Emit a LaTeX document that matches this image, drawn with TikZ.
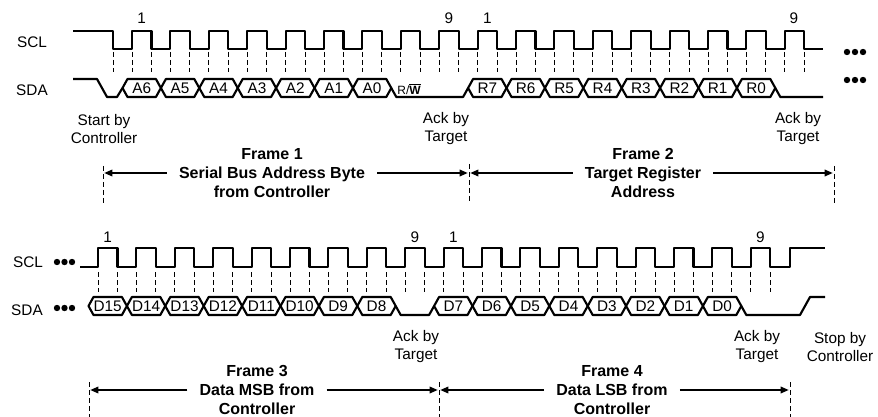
\documentclass[tikz,border=0pt]{standalone}
\usepackage{fontspec}
\setmainfont{Liberation Sans}
\usetikzlibrary{arrows.meta}

\tikzset{
	sig/.style={line width=1.6pt, line join=round},
	tick/.style={line width=0.7pt, dash pattern=on 3.5pt off 2.5pt},
	dim/.style={line width=0.9pt, -{Triangle[length=6pt,width=5pt]}, shorten >=1pt},
	lbl/.style={font=\fontsize{11.5}{13.5}\selectfont, align=center, inner sep=0pt},
	bitlbl/.style={font=\fontsize{11.5}{13.5}\selectfont, inner sep=0pt},
	rwlbl/.style={font=\fontsize{9}{10}\selectfont, inner sep=0pt},
	framelbl/.style={font=\fontsize{12}{14}\selectfont\bfseries, align=center, inner xsep=9pt, inner ysep=0pt}
}

% one data bit: hexagon from #1 to #1+38.4, middle at #2
\newcommand\hexbit[3]{%
	\pgfmathsetmacro\hxa{#1}%
	\pgfmathsetmacro\hxb{#1+38.4}%
	\draw[sig] (\hxa,#2) -- (\hxa+5,#2-9) -- (\hxb-5,#2-9) -- (\hxb,#2) -- (\hxb-5,#2+9) -- (\hxa+5,#2+9) -- cycle;%
	\node[bitlbl] (bit#3) at ({(\hxa+\hxb)/2},#2) {#3};}

\begin{document}
\begin{tikzpicture}[x=0.75pt, y=-0.75pt]
		%%%%% START %%%%%
		\useasboundingbox (0,0) rectangle (878,417);
		
		%%%%% frames 1 and 2 %%%%%
		\node[lbl] (scl1) at (32,42) {SCL};
		\node[lbl] (sda1) at (32,90) {SDA};
		
		\draw[sig] (73,31) -- (113,31) -- (113,49)
			\foreach \k in {0,...,17} { -- ({132+\k*38.4},49) -- ++(0,-18) -- ++(19.5,0) -- ++(0,18) }
			-- (823,49);
		
		\draw[tick] (113,52) -- ++(0,20);
		\foreach \k in {0,...,17} {
			\draw[tick] ({132+\k*38.4},52) -- ++(0,20);
			\draw[tick] ({151.5+\k*38.4},52) -- ++(0,20);
		}
		
		\draw[sig] (73,79) -- (97,79) -- (107,97) -- (117,97) -- (122.5,88);
		\foreach \b [count=\k from 0] in {A6,A5,A4,A3,A2,A1,A0} {\hexbit{122.5+\k*38.4}{88}{\b}}
		\draw[sig] (391.3,88) -- (396.3,97) -- (463.1,97) -- (468.1,88);
		\node[rwlbl] (rw) at (409,89) {R/\textbf{$\overline{\mbox{W}}$}};
		\foreach \b [count=\k from 9] in {R7,R6,R5,R4,R3,R2,R1,R0} {\hexbit{122.5+\k*38.4}{88}{\b}}
		\draw[sig] (775.3,88) -- (780.3,97) -- (823,97);
		
		\foreach \x in {847,855,863} {
			\fill (\x,52) circle (2.4pt);
			\fill (\x,80) circle (2.4pt);
		}
		
		\node[lbl] (c1) at (141.75,18.5) {1};
		\node[lbl] (c9) at (449,18.5) {9};
		\node[lbl] (c10) at (487.4,18.5) {1};
		\node[lbl] (c18) at (794,18.5) {9};
		
		\node[lbl] (start) at (104,129) {Start by\\Controller};
		\node[lbl] (ack1) at (446,129) {Ack by\\Target};
		\node[lbl] (ack2) at (798,129) {Ack by\\Target};
		
		\draw[tick] (103,166) -- (103,203);
		\draw[tick] (469,164) -- (469,203);
		\draw[tick] (834,166) -- (834,203);
		\coordinate (m1) at (103,173);
		\coordinate (m2a) at (469,173);
		\coordinate (m2b) at (469,173);
		\coordinate (m3) at (834,173);
		
		\node[framelbl] (f1) at (272,173) {Frame 1\\Serial Bus Address Byte\\from Controller};
		\node[framelbl] (f2) at (643,173) {Frame 2\\Target Register\\Address};
		\draw[dim] (f1.west) -- (m1);
		\draw[dim] (f1.east) -- (m2a);
		\draw[dim] (f2.west) -- (m2b);
		\draw[dim] (f2.east) -- (m3);
		
		%%%%% frames 3 and 4 %%%%%
		\node[lbl] (scl2) at (28,262) {SCL};
		\node[lbl] (sda2) at (27,310) {SDA};
		
		\foreach \x in {57,64.5,72} {
			\fill (\x,262) circle (2.4pt);
			\fill (\x,308) circle (2.4pt);
		}
		
		\draw[sig] (80,267)
			\foreach \k in {0,...,17} { -- ({98+\k*38.4},267) -- ++(0,-19) -- ++(19.5,0) -- ++(0,19) }
			-- (790,267) -- (790,248) -- (825,248);
		
		\foreach \k in {0,...,17} {
			\draw[tick] ({98+\k*38.4},272) -- ++(0,20);
			\draw[tick] ({117.5+\k*38.4},272) -- ++(0,20);
		}
		
		\foreach \b [count=\k from 0] in {D15,D14,D13,D12,D11,D10,D9,D8} {\hexbit{88.5+\k*38.4}{306}{\b}}
		\draw[sig] (395.7,306) -- (400.7,315) -- (429.1,315) -- (434.1,306);
		\foreach \b [count=\k from 9] in {D7,D6,D5,D4,D3,D2,D1,D0} {\hexbit{88.5+\k*38.4}{306}{\b}}
		\draw[sig] (741.3,306) -- (746.3,315) -- (800,315) -- (810,297) -- (825,297);
		
		\node[lbl] (d1) at (107.75,237) {1};
		\node[lbl] (d9) at (415,237) {9};
		\node[lbl] (d10) at (453.4,237) {1};
		\node[lbl] (d18) at (760.5,237) {9};
		
		\node[lbl] (ack3) at (416,347) {Ack by\\Target};
		\node[lbl] (ack4) at (757,347) {Ack by\\Target};
		\node[lbl] (stop) at (840,347) {Stop by\\Controller};
		
		\draw[tick] (89,382) -- (89,417);
		\draw[tick] (439,382) -- (439,417);
		\draw[tick] (790,382) -- (790,417);
		\coordinate (n1) at (89,390);
		\coordinate (n2a) at (439,390);
		\coordinate (n2b) at (439,390);
		\coordinate (n3) at (790,390);
		
		\node[framelbl] (f3) at (257,390) {Frame 3\\Data MSB from\\Controller};
		\node[framelbl] (f4) at (612,390) {Frame 4\\Data LSB from\\Controller};
		\draw[dim] (f3.west) -- (n1);
		\draw[dim] (f3.east) -- (n2a);
		\draw[dim] (f4.west) -- (n2b);
		\draw[dim] (f4.east) -- (n3);
		
		%%%%% END %%%%%
\end{tikzpicture}
\end{document}
